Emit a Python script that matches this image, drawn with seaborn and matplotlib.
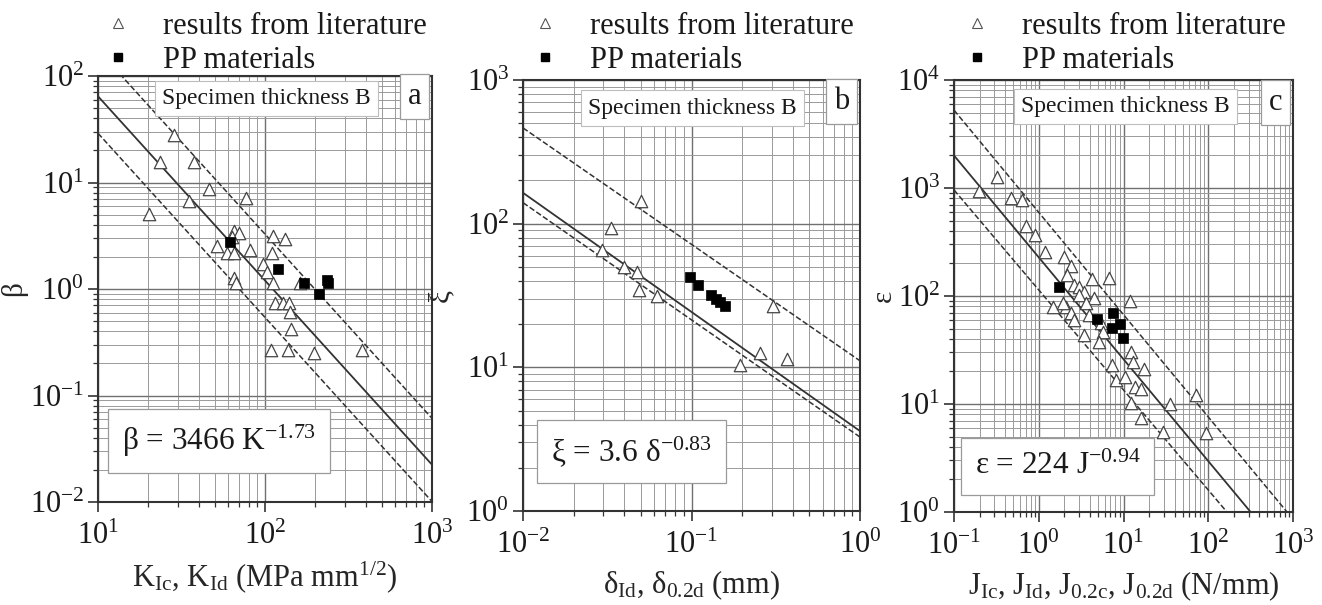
import matplotlib
matplotlib.use("Agg")
import matplotlib.pyplot as plt
import seaborn as sns
import pandas as pd
from matplotlib.ticker import LogLocator, NullFormatter
from matplotlib.lines import Line2D

# ---------------- data ----------------
# panel a: beta vs K
a_lit_x = [28.4, 23.4, 37.8, 46.1, 35.0, 76.9, 20.1, 65.3, 70.0, 63.8, 111, 132, 51.9, 59.6, 65.3,
           81.3, 109.6, 96.8, 102.8, 65.3, 66.8, 111, 161, 114, 128, 140, 142, 143.5, 108.6, 137, 196, 379]
a_lit_y = [27.9, 15.7, 15.7, 8.6, 6.76, 7.2, 5.06, 3.52, 3.35, 3.1, 3.15, 2.93, 2.53, 2.16, 2.16,
           2.32, 2.19, 1.72, 1.45, 1.26, 1.15, 1.15, 1.13, 0.745, 0.745, 0.745, 0.61, 0.42, 0.267, 0.27, 0.25, 0.27]
a_pp_x = [61.8, 119, 171, 212, 236, 240]
a_pp_y = [2.79, 1.53, 1.15, 0.89, 1.22, 1.13]
a_fit_x = [10, 1000]
a_fit_y = [64.5, 0.0224]
a_up_y = [176, 0.061]
a_lo_y = [29, 0.0101]

# panel b: xi vs delta
b_lit_x = [0.0501, 0.0333, 0.0294, 0.0395, 0.0475, 0.0486, 0.0625, 0.305, 0.255, 0.367, 0.194]
b_lit_y = [143, 93, 66, 50, 46, 34.8, 31.3, 26.7, 12.6, 11.5, 10.3]
b_pp_x = [0.0977, 0.110, 0.131, 0.139, 0.147, 0.157]
b_pp_y = [42.6, 37.7, 32.1, 30.0, 28.5, 26.7]
b_fit_x = [0.01, 1]
b_fit_y = [164, 3.6]
b_up_y = [464, 11.1]
b_lo_y = [140, 3.27]

# panel c: epsilon vs J
c_lit_x = [0.326, 0.198, 0.469, 0.643, 0.705, 0.91, 1.19, 2.0, 2.4, 2.13, 4.26, 6.7, 2.63, 2.96, 3.45,
           4.54, 12.0, 3.01, 3.62, 1.46, 2.1, 1.91, 2.4, 2.63, 3.9, 5.45, 5.7, 3.45, 5.2, 12.3, 12.9, 17.3,
           7.3, 8.2, 10.3, 13.5, 16.2, 12.3, 35, 72.4, 16.2, 29.2, 95]
c_lit_y = [1256, 944, 803, 774, 445, 367, 257, 228, 190, 156, 143, 146, 126, 122, 110,
           95, 90.6, 102, 85.6, 79.6, 79.6, 85.6, 69, 60, 66.7, 56.6, 46.8, 43.5, 37.8, 30.5, 24.7, 21,
           23, 16.7, 17.9, 14.5, 13.7, 10.3, 10.1, 12.1, 7.36, 5.55, 5.37]
c_pp_x = [1.72, 4.84, 7.48, 7.35, 9.14, 9.8]
c_pp_y = [120, 60.8, 70, 50.2, 55, 40.6]
c_fit_x = [0.1, 316]
c_fit_y = [2000, 1]
c_up_x = [0.1, 850]
c_up_y = [5260, 1]
c_lo_x = [0.1, 166]
c_lo_y = [960, 1]

legend_labels = ["results from literature", "PP materials"]
spec_text = "Specimen thickness B"
panel_letters = ["a", "b", "c"]
equations = [r"β = 3466 K$^{-1.73}$", r"ξ = 3.6 δ$^{-0.83}$", r"ε = 224 J$^{-0.94}$"]
ylabels = ["β", "ξ", "ε"]
xlabels = [r"K$_{\rm Ic}$, K$_{\rm Id}$ (MPa mm$^{1/2}$)",
           r"δ$_{\rm Id}$, δ$_{\rm 0.2d}$ (mm)",
           r"J$_{\rm Ic}$, J$_{\rm Id}$, J$_{\rm 0.2c}$, J$_{\rm 0.2d}$ (N/mm)"]
xlims = [(10, 1000), (0.01, 1), (0.1, 1000)]
ylims = [(0.01, 100), (1, 1000), (1, 10000)]

# ---------------- style ----------------
sns.set_theme(style="ticks")
plt.rcParams['font.family'] = ['Liberation Serif', 'DejaVu Serif']
plt.rcParams['mathtext.fontset'] = 'custom'
plt.rcParams['mathtext.rm'] = 'Liberation Serif'
plt.rcParams['mathtext.it'] = 'Liberation Serif:italic'
plt.rcParams['mathtext.bf'] = 'Liberation Serif:bold'
plt.rcParams['axes.unicode_minus'] = False
plt.rcParams['text.color'] = '#1a1a1a'

W, H = 1322, 605
fig = plt.figure(figsize=(W / 100, H / 100), dpi=100)

# axes rectangles in pixels: left, top, right, bottom
rects_px = [(98, 76, 432, 502), (523, 80, 860, 511), (954, 80, 1293, 512)]
axes = []
for (l, t, r, b) in rects_px:
    axes.append(fig.add_axes([l / W, 1 - b / H, (r - l) / W, (b - t) / H]))

lit = [(a_lit_x, a_lit_y), (b_lit_x, b_lit_y), (c_lit_x, c_lit_y)]
pp = [(a_pp_x, a_pp_y), (b_pp_x, b_pp_y), (c_pp_x, c_pp_y)]
fits = [
    [(a_fit_x, a_fit_y, '-'), (a_fit_x, a_up_y, '--'), (a_fit_x, a_lo_y, '--')],
    [(b_fit_x, b_fit_y, '-'), (b_fit_x, b_up_y, '--'), (b_fit_x, b_lo_y, '--')],
    [(c_fit_x, c_fit_y, '-'), (c_up_x, c_up_y, '--'), (c_lo_x, c_lo_y, '--')],
]

spec_pos = [(0.504, 0.948), (0.503, 0.935), (0.505, 0.938)]
letter_pos = [(0.948, 0.952), (0.945, 0.95), (0.948, 0.948)]
eq_pos = [(0.362, 0.143), (0.322, 0.139), (0.305, 0.105)]
legend_left_px = [103, 530, 962]
ylabel_pad = [2, 9, 0]

for i, ax in enumerate(axes):
    ax.set_xscale('log')
    ax.set_yscale('log')
    ax.set_xlim(*xlims[i])
    ax.set_ylim(*ylims[i])
    ax.set_axisbelow(True)

    for (fx, fy, ls) in fits[i]:
        sns.lineplot(x=fx, y=fy, ax=ax, color='#333333', lw=1.3 if ls == '-' else 1.1,
                     linestyle=ls, dashes=(4, 3) if ls == '--' else None, sort=False)

    sns.scatterplot(x=lit[i][0], y=lit[i][1], ax=ax, marker='^', s=80,
                    facecolor='white', edgecolor='#444444', linewidth=0.9, zorder=3)
    sns.scatterplot(x=pp[i][0], y=pp[i][1], ax=ax, marker='s', s=48,
                    color='black', edgecolor='black', linewidth=0.5, zorder=4)

    ax.xaxis.set_major_locator(LogLocator(base=10, numticks=10))
    ax.yaxis.set_major_locator(LogLocator(base=10, numticks=10))
    ax.xaxis.set_minor_locator(LogLocator(base=10, subs=range(2, 10), numticks=20))
    ax.yaxis.set_minor_locator(LogLocator(base=10, subs=range(2, 10), numticks=20))
    ax.xaxis.set_minor_formatter(NullFormatter())
    ax.yaxis.set_minor_formatter(NullFormatter())
    ax.grid(True, which='major', color='#707070', lw=1.0)
    ax.grid(True, which='minor', color='#9a9a9a', lw=0.7)
    ax.tick_params(which='major', direction='out', length=7, width=1.2, labelsize=22,
                   colors='#333333', labelcolor='#1a1a1a')
    ax.tick_params(axis='y', which='major', pad=3)
    ax.tick_params(axis='x', which='major', pad=7)
    ax.tick_params(which='minor', direction='out', length=3.5, width=0.9, colors='#333333')
    for sp in ax.spines.values():
        sp.set_color('#333333')
        sp.set_linewidth(1.5)
    ax.set_xlabel(xlabels[i], fontsize=22, labelpad=6)
    ax.set_ylabel(ylabels[i], fontsize=21, labelpad=ylabel_pad[i])

    ax.text(*spec_pos[i], spec_text, transform=ax.transAxes, ha='center', va='center',
            fontsize=17, zorder=6,
            bbox=dict(boxstyle='square,pad=0.3', fc='white', ec='#bdbdbd', lw=0.8))
    ax.text(*letter_pos[i], panel_letters[i], transform=ax.transAxes, ha='center', va='center',
            fontsize=22, zorder=6,
            bbox=dict(boxstyle='square,pad=0.25', fc='white', ec='#9a9a9a', lw=0.9))
    ax.text(*eq_pos[i], equations[i], transform=ax.transAxes, ha='center', va='center',
            fontsize=22.5, zorder=6,
            bbox=dict(boxstyle='square,pad=0.45', fc='white', ec='#9a9a9a', lw=0.9))

    handles = [Line2D([], [], ls='', marker='^', ms=6.5, mfc='white', mec='#555555', mew=0.8),
               Line2D([], [], ls='', marker='s', ms=6, mfc='black', mec='black')]
    fig.legend(handles, legend_labels, loc='upper left',
               bbox_to_anchor=(legend_left_px[i] / W, 1 - 12 / H),
               frameon=False, fontsize=22, handlelength=1.0, handletextpad=0.97,
               labelspacing=0.15, borderpad=0, borderaxespad=0)

fig.savefig("out.png", dpi=100)
